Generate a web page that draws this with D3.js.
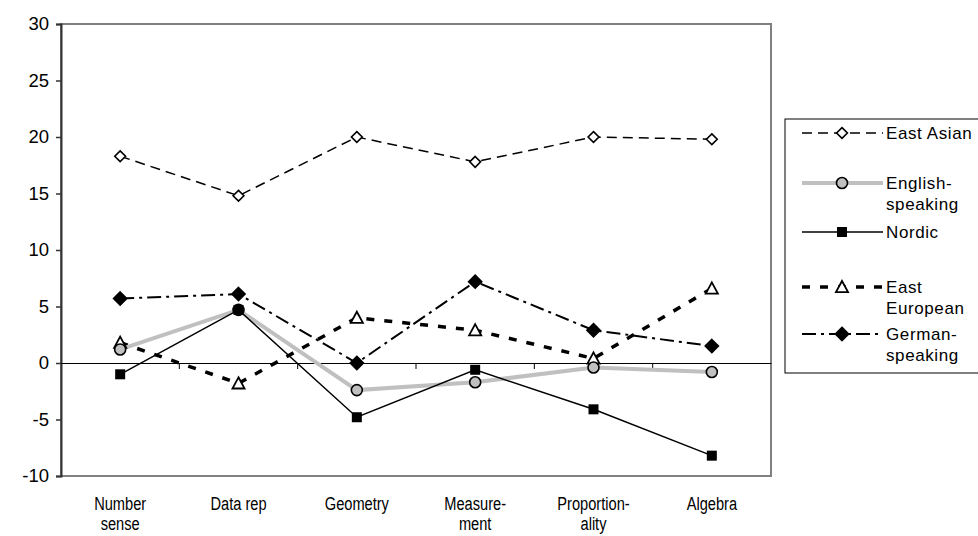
<!DOCTYPE html>
<html><head><meta charset="utf-8">
<script src="https://cdn.jsdelivr.net/npm/d3@7/dist/d3.min.js"></script>
<style>
body{margin:0;background:#fff;}
svg text{font-family:"Liberation Sans",Arial,sans-serif;fill:#000;}
</style></head>
<body><svg id="c" width="978" height="536"></svg>
<script>
const categories = [["Number","sense"],["Data rep"],["Geometry"],["Measure-","ment"],["Proportion-","ality"],["Algebra"]];
const yTicks = [-10,-5,0,5,10,15,20,25,30];
const eastAsian = [18.3,14.8,20.0,17.8,20.0,19.8];
const englishSpeaking = [1.2,4.7,-2.4,-1.7,-0.4,-0.8];
const nordic = [-1.0,4.7,-4.8,-0.6,-4.1,-8.2];
const eastEuropean = [1.8,-1.8,4.0,2.9,0.4,6.6];
const germanSpeaking = [5.7,6.1,0.0,7.2,2.9,1.5];
const seriesNames = [["East Asian"],["English-","speaking"],["Nordic"],["East","European"],["German-","speaking"]];

const series = [
 {name:seriesNames[0], values:eastAsian, stroke:"#000", width:1.5, dash:"10,6", marker:"diamond", fill:"#fff", msize:9},
 {name:seriesNames[1], values:englishSpeaking, stroke:"#c0c0c0", width:4, dash:null, marker:"circle", fill:"#c0c0c0", msize:5.5},
 {name:seriesNames[2], values:nordic, stroke:"#000", width:1.5, dash:null, marker:"square", fill:"#000", msize:10},
 {name:seriesNames[3], values:eastEuropean, stroke:"#000", width:3.5, dash:"8,10", marker:"triangle", fill:"#fff", msize:11},
 {name:seriesNames[4], values:germanSpeaking, stroke:"#000", width:2, dash:"14,5,3,5", marker:"diamondFilled", fill:"#000", msize:11}
];
const drawOrder = [0,3,4,1,2];

const svg = d3.select("#c");
const L=61, R=771, T=24, B=476;
const x = d3.scaleBand().domain(d3.range(categories.length)).range([L,R]);
const y = d3.scaleLinear().domain([-10,30]).range([B,T]);

svg.append("rect").attr("x",L).attr("y",T).attr("width",R-L).attr("height",B-T)
  .attr("fill","none").attr("stroke","#808080").attr("stroke-width",2);

const ya = svg.append("g").attr("transform",`translate(${L},0)`)
  .call(d3.axisLeft(y).tickValues(yTicks).tickSize(5).tickPadding(7).tickFormat(d=>String(d)));
ya.select(".domain").attr("stroke","#333").attr("stroke-width",2);
ya.selectAll(".tick line").attr("stroke","#333").attr("stroke-width",1.5);
ya.selectAll(".tick text").attr("font-size",18.5).attr("font-family","Liberation Sans, Arial, sans-serif").attr("fill","#000");

const xa = svg.append("g").attr("transform",`translate(0,${y(0)})`)
  .call(d3.axisBottom(x).tickSize(0).tickFormat(""));
xa.select(".domain").attr("stroke","#000").attr("stroke-width",1.2);
const bounds = d3.range(1,categories.length).map(i=>x(i));
xa.selectAll(".btick").data(bounds).join("line").attr("class","btick")
  .attr("x1",d=>d).attr("x2",d=>d).attr("y1",0).attr("y2",6).attr("stroke","#000").attr("stroke-width",1);

const cl = svg.append("g");
categories.forEach((lines,i)=>{
  const cx = x(i)+x.bandwidth()/2;
  const t = cl.append("text").attr("transform",`translate(${cx},510) scale(0.77,1)`)
    .attr("text-anchor","middle").attr("font-size",19);
  lines.forEach((s,j)=>t.append("tspan").attr("x",0).attr("y",j*20).text(s));
});

function marker(g, s, cx, cy){
  const m = s.msize;
  if(s.marker==="diamond"||s.marker==="diamondFilled"){
    const h = m*0.6;
    g.append("path").attr("d",`M${cx},${cy-h}L${cx+h},${cy}L${cx},${cy+h}L${cx-h},${cy}Z`)
     .attr("fill",s.fill).attr("stroke","#000").attr("stroke-width",1.6);
  } else if(s.marker==="circle"){
    g.append("circle").attr("cx",cx).attr("cy",cy).attr("r",m).attr("fill",s.fill).attr("stroke","#000").attr("stroke-width",1.6);
  } else if(s.marker==="square"){
    g.append("rect").attr("x",cx-m/2).attr("y",cy-m/2).attr("width",m).attr("height",m).attr("fill","#000");
  } else if(s.marker==="triangle"){
    const h=m*0.55;
    g.append("path").attr("d",`M${cx},${cy-h}L${cx+h},${cy+h*0.85}L${cx-h},${cy+h*0.85}Z`)
     .attr("fill","#fff").attr("stroke","#000").attr("stroke-width",1.8);
  }
}

const line = d3.line().x((d,i)=>x(i)+x.bandwidth()/2).y(d=>y(d));
const pg = svg.append("g");
drawOrder.forEach(k=>{
  const s = series[k];
  pg.append("path").attr("d",line(s.values)).attr("fill","none").attr("stroke",s.stroke)
    .attr("stroke-width",s.width).attr("stroke-dasharray",s.dash);
});
drawOrder.forEach(k=>{
  const s = series[k];
  s.values.forEach((v,i)=>marker(pg,s,x(i)+x.bandwidth()/2,y(v)));
});

const lg = svg.append("g");
lg.append("rect").attr("x",785).attr("y",119).attr("width",200).attr("height",254)
  .attr("fill","#fff").attr("stroke","#000").attr("stroke-width",1);
const legendY = [133,183,232,287,334];
series.forEach((s,k)=>{
  const ly = legendY[k];
  lg.append("line").attr("x1",802).attr("x2",883).attr("y1",ly).attr("y2",ly)
    .attr("stroke",s.stroke).attr("stroke-width",s.width).attr("stroke-dasharray",s.dash);
  marker(lg,s,842,ly);
  const t = lg.append("text").attr("x",886).attr("y",ly+6).attr("font-size",17).attr("letter-spacing","0.6");
  s.name.forEach((n,j)=>t.append("tspan").attr("x",886).attr("dy",j?21:0).text(n));
});
</script></body></html>
